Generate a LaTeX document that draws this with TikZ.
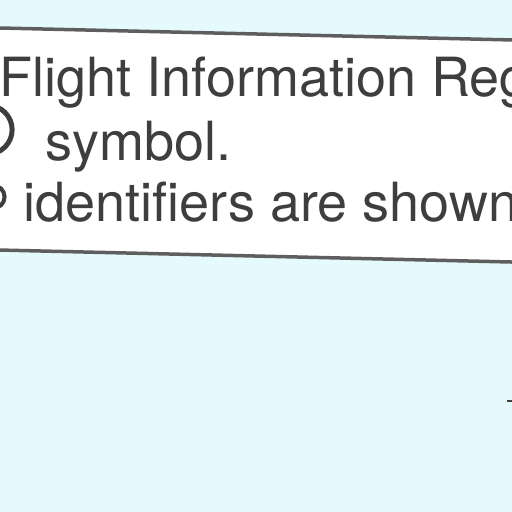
\documentclass[tikz,border=0pt]{standalone}
\usepackage{fontspec}
\setmainfont{TeX Gyre Heros}
\definecolor{bgcyan}{HTML}{E5FAFD}
\definecolor{ink}{HTML}{3E3E3E}
\definecolor{frame}{HTML}{5E5E5E}
\begin{document}
\begin{tikzpicture}[x=1pt,y=1pt,
  txt/.style={anchor=base west,inner sep=0pt,text=ink,font=\fontsize{54}{60}\selectfont},
  boxframe/.style={draw=frame,line width=3.5pt,fill=white},
  ring/.style={draw=ink,line width=5pt}]
\useasboundingbox (0,0) rectangle (512,512);
\fill[bgcyan] (0,0) rectangle (512,512);
\clip (0,0) rectangle (512,512);
\begin{scope}[rotate around={-1.34:(0,484)}]
  \path[boxframe] (-30,262) rectangle (560,484);
  \node[txt] (l1) at (1,415) {Flight Information Reg};
  \node[txt] (l2) at (48,353) {symbol.};
  \node[txt] (l3) at (28,291) {identifiers are shown};
  \node[ring,circle,minimum size=49pt,inner sep=0pt] (c1) at (-10,382) {};
  \node[ring,circle,line width=4pt,minimum size=23pt,inner sep=0pt] (c2) at (-3,315) {};
\end{scope}
\coordinate (m1) at (507,111);
\coordinate (m2) at (513,111);
\draw[ink,line width=2.5pt] (m1) -- (m2);
\end{tikzpicture}
\end{document}
